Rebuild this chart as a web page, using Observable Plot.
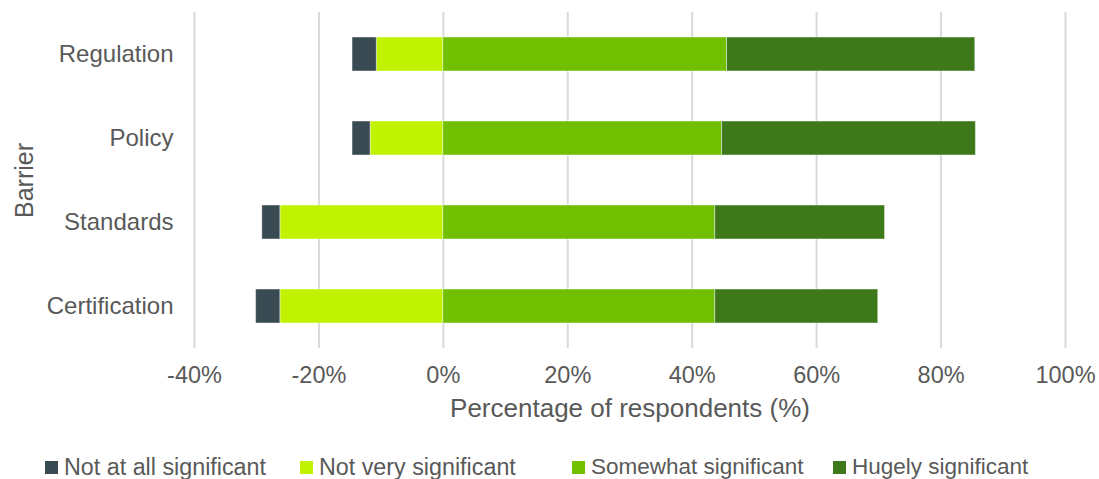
<!DOCTYPE html>
<html>
<head>
<meta charset="utf-8">
<script src="https://cdn.jsdelivr.net/npm/d3@7"></script>
<script src="https://cdn.jsdelivr.net/npm/@observablehq/plot@0.6"></script>
<style>
  html, body { margin: 0; padding: 0; background: #fff; }
  #wrap { position: relative; width: 1099px; height: 479px; font-family: "Liberation Sans", Arial, sans-serif; color: #595959; }
  #legend { position: absolute; left: 0; top: 449px; width: 1099px; height: 30px; }
  .item { position: absolute; top: 0; display: flex; align-items: center; height: 36px; white-space: nowrap; }
  .sw { width: 13px; height: 13px; margin-right: 6px; }
  .lab { font-size: 22.5px; }
</style>
</head>
<body>
<div id="wrap"><div id="chart"></div><div id="legend"></div></div>
<script>
// ---- data ----
const barriers = ["Regulation", "Policy", "Standards", "Certification"];
const seriesNames = ["Not at all significant", "Not very significant", "Somewhat significant", "Hugely significant"];
const seriesColors = ["#3a4a52", "#c1f200", "#72bf00", "#3d781b"];
const notAtAll   = [3.9, 2.9, 2.9, 3.9];
const notVery    = [10.7, 11.7, 26.2, 26.2];
const somewhat   = [45.6, 44.8, 43.7, 43.7];
const hugely     = [39.9, 40.8, 27.3, 26.2];
const xTicks = [-40, -20, 0, 20, 40, 60, 80, 100];
const xTitle = "Percentage of respondents (%)";
const yTitle = "Barrier";

// build table of segments (diverging: negatives left of 0)
const rows = [];
barriers.forEach((b, i) => {
  rows.push({barrier: b, series: seriesNames[1], x1: -notVery[i], x2: 0});
  rows.push({barrier: b, series: seriesNames[0], x1: -notVery[i] - notAtAll[i], x2: -notVery[i]});
  rows.push({barrier: b, series: seriesNames[2], x1: 0, x2: somewhat[i]});
  rows.push({barrier: b, series: seriesNames[3], x1: somewhat[i], x2: somewhat[i] + hugely[i]});
});

const chart = Plot.plot({
  width: 1099,
  height: 440,
  marginTop: 12,
  marginBottom: 92,
  marginLeft: 194,
  marginRight: 34,
  style: { fontFamily: "Liberation Sans, Arial, sans-serif", color: "#595959", background: "white" },
  x: { domain: [-40, 100], label: null },
  y: { domain: barriers, paddingInner: 0.6, paddingOuter: 0.3, label: null },
  color: { domain: seriesNames, range: seriesColors },
  marks: [
    Plot.gridX(xTicks, { stroke: "#d9d9d9", strokeOpacity: 1, strokeWidth: 2 }),
    Plot.barX(rows, { y: "barrier", x1: "x1", x2: "x2", fill: "series", stroke: "#ffffff", strokeOpacity: 0.45, strokeWidth: 1 }),
    Plot.axisX({ ticks: xTicks, tickSize: 0, tickPadding: 18, tickFormat: d => d + "%", fontSize: 23.5, label: null, fill: "#595959" }),
    Plot.axisY({ tickSize: 0, tickPadding: 21, fontSize: 24, label: null, fill: "#595959" }),
    Plot.text([xTitle], { frameAnchor: "bottom", dy: 68, fontSize: 26, fill: "#595959" }),
    Plot.text([yTitle], { frameAnchor: "left", textAnchor: "middle", dx: -170, rotate: -90, fontSize: 25, fill: "#595959" })
  ]
});
document.getElementById("chart").appendChild(chart);

// legend
const legendLefts = [45, 300, 572, 833];
const legendSizes = [23.3, 23.3, 22.5, 22.5];
const legend = document.getElementById("legend");
seriesNames.forEach((name, i) => {
  const item = document.createElement("div");
  item.className = "item";
  item.style.left = legendLefts[i] + "px";
  const sw = document.createElement("div");
  sw.className = "sw";
  sw.style.background = seriesColors[i];
  const lab = document.createElement("span");
  lab.className = "lab";
  lab.style.fontSize = legendSizes[i] + "px";
  lab.textContent = name;
  item.appendChild(sw);
  item.appendChild(lab);
  legend.appendChild(item);
});
</script>
</body>
</html>
